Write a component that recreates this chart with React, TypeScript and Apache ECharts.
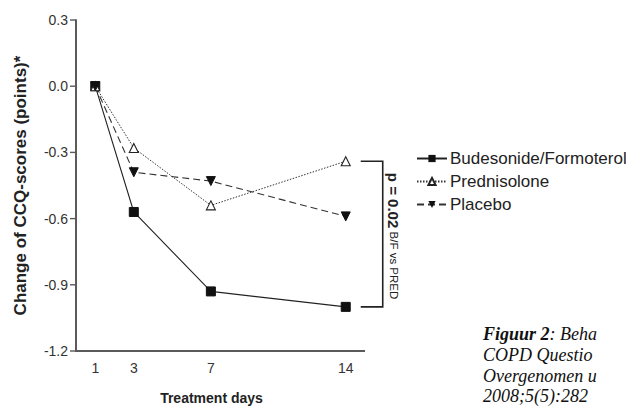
import React, { useEffect, useRef } from "react";
import * as echarts from "echarts";

const days = [1, 3, 7, 14];
const budesonide = [0.0, -0.57, -0.93, -1.0];
const prednisolone = [0.0, -0.28, -0.54, -0.34];
const placebo = [0.0, -0.39, -0.43, -0.59];
const seriesNames = ["Budesonide/Formoterol", "Prednisolone", "Placebo"];
const yTicks = [0.3, 0.0, -0.3, -0.6, -0.9, -1.2];
const xMin = 0;
const xMax = 15;
const yMin = -1.2;
const yMax = 0.3;
const captionLines = ["COPD Questio", "Overgenomen u", "2008;5(5):282"];

export default function App() {
  const ref = useRef<HTMLDivElement>(null);
  useEffect(() => {
    if (!ref.current) return;
    const chart = echarts.init(ref.current, null, { renderer: "svg" });
    const pair = (ys: number[]) => days.map((d, i) => [d, ys[i]]);
    chart.setOption({
      animation: false,
      backgroundColor: "#ffffff",
      textStyle: { fontFamily: "Liberation Sans, Arial, sans-serif" },
      grid: { left: 76, top: 20, right: 261, bottom: 58, containLabel: false },
      xAxis: {
        type: "value",
        min: xMin,
        max: xMax,
        name: "Treatment days",
        nameLocation: "middle",
        nameGap: 40,
        nameTextStyle: { fontSize: 14, fontWeight: "bold", color: "#222", padding: [0, 18, 0, 0] },
        axisLine: { show: false },
        axisTick: { show: false },
        splitLine: { show: false },
        axisLabel: { customValues: days, color: "#333", fontSize: 14, margin: 10 },
      },
      yAxis: {
        type: "value",
        min: yMin,
        max: yMax,
        interval: 0.3,
        name: "Change of CCQ-scores (points)*",
        nameLocation: "middle",
        nameGap: 47,
        nameTextStyle: { fontSize: 17, fontWeight: "bold", color: "#222" },
        axisLine: { show: false },
        axisTick: { show: false },
        splitLine: { show: false },
        axisLabel: {
          color: "#333",
          fontSize: 14,
          margin: 8,
          formatter: (v: number) => (Math.abs(v) < 1e-9 ? "0.0" : v.toFixed(1)),
        },
      },
      legend: {
        orient: "vertical",
        left: 411,
        top: 145,
        itemWidth: 30,
        itemHeight: 9,
        itemGap: 6,
        textStyle: { fontSize: 17, color: "#222", padding: [0, 0, 0, -2] },
        data: seriesNames,
      },
      series: [
        {
          name: "axes",
          type: "line",
          data: [[xMin, yMax], [xMin, yMin], [xMax, yMin]],
          symbol: "none",
          silent: true,
          clip: false,
          lineStyle: { color: "#5a5a5a", width: 1.8, type: "solid" },
          z: 1,
        },
        {
          name: seriesNames[0],
          type: "line",
          data: pair(budesonide),
          symbol: "rect",
          symbolSize: 9,
          itemStyle: { color: "#111", borderColor: "#111" },
          lineStyle: { color: "#222", width: 1.1, type: "solid" },
        },
        {
          name: seriesNames[1],
          type: "line",
          data: pair(prednisolone),
          symbol: "triangle",
          symbolSize: 9,
          itemStyle: { color: "#ffffff", borderColor: "#222", borderWidth: 1.1 },
          lineStyle: { color: "#333", width: 1, type: [1.5, 1.5] },
          z: 3,
        },
        {
          name: seriesNames[2],
          type: "line",
          data: pair(placebo),
          symbol: "triangle",
          symbolRotate: 180,
          symbolSize: 9,
          itemStyle: { color: "#111", borderColor: "#111" },
          lineStyle: { color: "#333", width: 1.1, type: [7, 4] },
        },
      ],
    });

    const px = (x: number, y: number) => chart.convertToPixel({ gridIndex: 0 }, [x, y]) as number[];
    const origin = px(xMin, yMin);
    const yTop = px(xMin, yMax);
    const xRight = px(xMax, yMin);
    const top = px(14, prednisolone[3]);
    const bot = px(14, budesonide[3]);
    const bx0 = top[0] + 15;
    const bx1 = top[0] + 37;
    const mid = (top[1] + bot[1]) / 2;
    const axisFill = "#5a5a5a";
    chart.setOption({
      graphic: [
        {
          type: "polyline",
          shape: { points: [[bx0, top[1]], [bx1, top[1]], [bx1, bot[1]], [bx0, bot[1]]] },
          style: { stroke: "#222", lineWidth: 1.6, fill: "none" },
        },
        {
          type: "text",
          x: bx1 + 11,
          y: mid + 2,
          rotation: -Math.PI / 2,
          style: {
            text: "{a|p = 0.02} {b|B/F vs PRED}",
            align: "center",
            verticalAlign: "middle",
            rich: {
              a: { fontSize: 15, fontWeight: "bold", fill: "#222", fontFamily: "Liberation Sans" },
              b: { fontSize: 11.5, fill: "#222", fontFamily: "Liberation Sans" },
            },
          },
        },
        {
          type: "text",
          x: 483,
          y: 334,
          style: {
            text: "{b|Figuur 2}{n|: Beha}",
            verticalAlign: "middle",
            rich: {
              b: { fontSize: 18, fontWeight: "bold", fontStyle: "italic", fill: "#111", fontFamily: "Liberation Serif" },
              n: { fontSize: 18, fontStyle: "italic", fill: "#111", fontFamily: "Liberation Serif" },
            },
          },
        },
        ...captionLines.map((t, i) => ({
          type: "text",
          x: 483,
          y: 355 + i * 20.5,
          style: {
            text: t,
            verticalAlign: "middle",
            fontSize: 18,
            fontStyle: "italic",
            fill: "#111",
            fontFamily: "Liberation Serif",
          },
        })),
        {
          type: "rect",
          shape: { x: origin[0] - 1, y: yTop[1] - 0.8, width: 1.8, height: origin[1] - yTop[1] + 1.6 },
          style: { fill: axisFill },
          z: 100,
        },
        {
          type: "rect",
          shape: { x: origin[0] - 1, y: origin[1] - 0.9, width: xRight[0] - origin[0] + 1, height: 1.8 },
          style: { fill: axisFill },
          z: 100,
        },
        ...yTicks.map((v) => {
          const p = px(xMin, v);
          return {
            type: "rect",
            shape: { x: p[0] - 6, y: p[1] - 0.7, width: 6, height: 1.4 },
            style: { fill: axisFill },
            z: 100,
          };
        }),
      ],
    });
    return () => chart.dispose();
  }, []);
  return (
    <div
      ref={ref}
      style={{ position: "fixed", left: 0, top: 0, width: 626, height: 410, overflow: "hidden" }}
    />
  );
}
